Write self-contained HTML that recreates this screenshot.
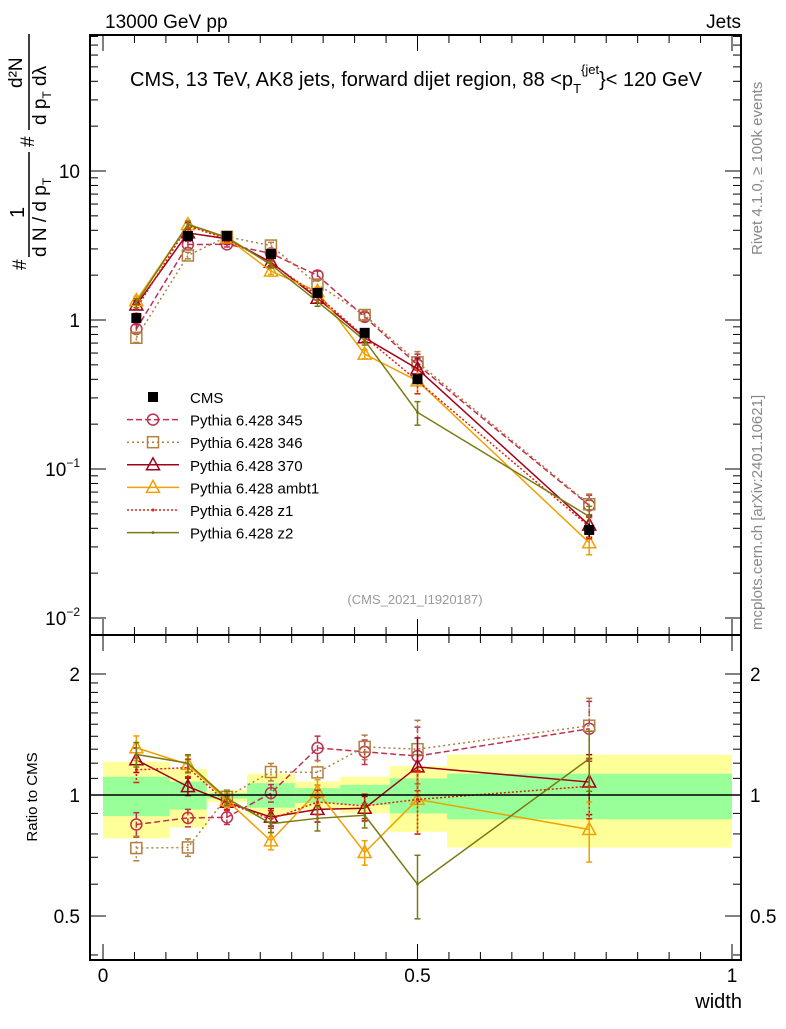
<!DOCTYPE html>
<html><head><meta charset="utf-8"><style>
body{margin:0;background:#fff;}
svg text{font-family:"Liberation Sans",sans-serif;}
</style></head><body>
<svg id="c" width="786" height="1024" xmlns="http://www.w3.org/2000/svg">
<g id="bands"></g>
<g id="marks"></g>
<g id="axes"></g>
<text x="105" y="28" font-size="19">13000 GeV pp</text>
<text x="741" y="28" font-size="19" text-anchor="end">Jets</text>
<text x="416" y="86" font-size="20" text-anchor="middle">CMS, 13 TeV, AK8 jets, forward dijet region, 88 &lt;p<tspan font-size="13" dy="7">T</tspan><tspan font-size="13" dy="-19">{jet</tspan><tspan dy="12">}&lt; 120 GeV</tspan></text>
<text x="415" y="604" font-size="13" fill="#999" text-anchor="middle">(CMS_2021_I1920187)</text>
<text transform="translate(762,255) rotate(-90)" font-size="15" fill="#888">Rivet 4.1.0, ≥ 100k events</text>
<text transform="translate(762,630) rotate(-90)" font-size="15" fill="#888">mcplots.cern.ch [arXiv:2401.10621]</text>
<g transform="translate(46,270) rotate(-90)">
<text x="0" y="-20" font-size="19">#</text>
<text x="52" y="-22" font-size="20">1</text>
<line x1="13" y1="-17" x2="118" y2="-17" stroke="#000" stroke-width="1.5"/>
<text x="13" y="0" font-size="19">d N / d p<tspan font-size="12" dy="5">T</tspan></text>
<text x="123" y="-12" font-size="19">#</text>
<text x="182" y="-24" font-size="19">d²N</text>
<line x1="140" y1="-17" x2="236" y2="-17" stroke="#000" stroke-width="1.5"/>
<text x="145" y="0" font-size="19">d p<tspan font-size="12" dy="5">T</tspan><tspan dy="-5"> dλ</tspan></text>
</g>
<text transform="translate(37,797) rotate(-90)" font-size="15" text-anchor="middle">Ratio to CMS</text>
<text x="742" y="1008" font-size="20" text-anchor="end">width</text>
<g id="legend"></g>
</svg>
<script>
const edges=[0,0.106,0.165,0.229,0.305,0.377,0.456,0.547,1.0];
const xc=[0.053,0.135,0.197,0.267,0.341,0.416,0.50,0.773];
const cms=[1.03,3.66,3.66,2.77,1.52,0.82,0.40,0.039];
const cmsErr=[0.03,0.06,0.05,0.05,0.03,0.03,0.04,0.10];
const band1Up=[1.11,1.08,1.01,1.07,1.04,1.06,1.10,1.13];
const band1Dn=[0.886,0.92,0.98,0.93,0.955,0.945,0.90,0.87];
const band2Up=[1.21,1.16,1.03,1.13,1.08,1.11,1.18,1.26];
const band2Dn=[0.78,0.83,0.96,0.89,0.92,0.90,0.81,0.74];
const v345=[0.87,3.21,3.22,2.80,1.99,1.05,0.50,0.057];
const v346=[0.76,2.71,3.62,3.16,1.73,1.08,0.52,0.058];
const v370=[1.26,3.84,3.51,2.44,1.40,0.76,0.47,0.042];
const vambt1=[1.35,4.36,3.55,2.13,1.55,0.59,0.39,0.032];
const vz1=[1.19,4.28,3.50,2.41,1.46,0.77,0.39,0.041];
const vz2=[1.30,4.39,3.59,2.35,1.33,0.73,0.24,0.048];
const mcErr=[0.07,0.05,0.04,0.05,0.07,0.07,0.18,0.17];
const series=[
 {n:"Pythia 6.428 345",v:v345,c:"#c03050",d:"6,3",m:"circle"},
 {n:"Pythia 6.428 346",v:v346,c:"#b08040",d:"2,3",m:"square"},
 {n:"Pythia 6.428 370",v:v370,c:"#a00018",d:"",m:"tri"},
 {n:"Pythia 6.428 ambt1",v:vambt1,c:"#f0a000",d:"",m:"tri"},
 {n:"Pythia 6.428 z1",v:vz1,c:"#e02010",d:"2,2",m:"dot"},
 {n:"Pythia 6.428 z2",v:vz2,c:"#7a7a10",d:"",m:"dot"}];
const NS="http://www.w3.org/2000/svg";
const L=90,R=741,T=35,M=635,B=960;
const X=v=>103+629*v;
const Y=v=>320-149*Math.log10(v);
const RY=v=>795-402*Math.log10(v);
function mk(p,tag,a){const e=document.createElementNS(NS,tag);for(const k in a)e.setAttribute(k,a[k]);p.appendChild(e);return e;}
const bands=document.getElementById('bands'),marks=document.getElementById('marks'),axes=document.getElementById('axes'),leg=document.getElementById('legend');
for(let i=0;i<8;i++){
 let r=mk(bands,'rect',{x:X(edges[i]),y:RY(band2Up[i]),width:X(edges[i+1])-X(edges[i]),height:RY(band2Dn[i])-RY(band2Up[i]),fill:'#ffff99'});
 
 let g=mk(bands,'rect',{x:X(edges[i]),y:RY(band1Up[i]),width:X(edges[i+1])-X(edges[i]),height:RY(band1Dn[i])-RY(band1Up[i]),fill:'#99ff99'});
 
}
let one=mk(axes,'line',{x1:L,x2:R,y1:RY(1),y2:RY(1),stroke:'#000','stroke-width':1.5});

function marker(p,m,x,y,c){
 if(m=="circle")mk(p,'circle',{cx:x,cy:y,r:5.5,fill:'none',stroke:c,'stroke-width':1.5});
 else if(m=="square")mk(p,'rect',{x:x-5.5,y:y-5.5,width:11,height:11,fill:'none',stroke:c,'stroke-width':1.5});
 else if(m=="tri")mk(p,'polygon',{points:`${x},${y-7} ${x-6.5},${y+5} ${x+6.5},${y+5}`,fill:'none',stroke:c,'stroke-width':1.5});
 else mk(p,'circle',{cx:x,cy:y,r:1.5,fill:c});
}
function drawSeries(vals,yf,s,ratio){
 const g=mk(marks,'g',{});
 
 
 const pts=vals.map((v,i)=>{const val=ratio?v/cms[i]:v;return [X(xc[i]),yf(val),val];});
 mk(g,'polyline',{points:pts.map(p=>p[0]+','+p[1]).join(' '),fill:'none',stroke:s.c,'stroke-width':1.5,'stroke-dasharray':s.d});
 pts.forEach((p,i)=>{const e=mcErr[i];
  mk(g,'line',{x1:p[0],x2:p[0],y1:yf(p[2]*(1+e)),y2:yf(p[2]*(1-e)),stroke:s.c,'stroke-width':1.5,'stroke-dasharray':s.d});
  mk(g,'line',{x1:p[0]-3,x2:p[0]+3,y1:yf(p[2]*(1+e)),y2:yf(p[2]*(1+e)),stroke:s.c,'stroke-width':1.5});
  mk(g,'line',{x1:p[0]-3,x2:p[0]+3,y1:yf(p[2]*(1-e)),y2:yf(p[2]*(1-e)),stroke:s.c,'stroke-width':1.5});
  marker(g,s.m,p[0],p[1],s.c);});
}
series.forEach(s=>{drawSeries(s.v,Y,s,false);drawSeries(s.v,RY,s,true);});
const cg=mk(marks,'g',{});


cms.forEach((v,i)=>{const x=X(xc[i]);
 mk(cg,'line',{x1:x,x2:x,y1:Y(v*(1+cmsErr[i])),y2:Y(v*(1-cmsErr[i])),stroke:'#000','stroke-width':1.5});
 mk(cg,'rect',{x:x-5,y:Y(v)-5,width:10,height:10,fill:'#000'});});
let f1=mk(axes,'rect',{x:L,y:T,width:R-L,height:M-T,fill:'none',stroke:'#000','stroke-width':2});

let f2=mk(axes,'rect',{x:L,y:M,width:R-L,height:B-M,fill:'none',stroke:'#000','stroke-width':2});

for(let d=-2;d<=1;d++)for(let k=1;k<10;k++){const v=k*Math.pow(10,d);const y=Y(v);if(y<T||y>M)continue;const len=k==1?16:8;
 mk(axes,'line',{x1:L,x2:L+len,y1:y,y2:y,stroke:'#000','stroke-width':1});mk(axes,'line',{x1:R-len,x2:R,y1:y,y2:y,stroke:'#000','stroke-width':1});}
[[10,"10"],[1,"1"]].forEach(t=>{let e=mk(axes,'text',{x:80,y:Y(t[0])+7,'font-size':19,'text-anchor':'end'});e.textContent=t[1];});
[[0.1,"−1"],[0.01,"−2"]].forEach(t=>{let e=mk(axes,'text',{x:80,y:Y(t[0])+7,'font-size':19,'text-anchor':'end'});e.innerHTML='10<tspan font-size="12" dy="-9">'+t[1]+'</tspan>';});
[0.5,0.6,0.7,0.8,0.9,1,2].forEach(v=>{const y=RY(v);const len=(v==0.5||v==1||v==2)?16:8;mk(axes,'line',{x1:L,x2:L+len,y1:y,y2:y,stroke:'#000'});mk(axes,'line',{x1:R-len,x2:R,y1:y,y2:y,stroke:'#000'});});
for(let v=1.1;v<2;v+=0.1){const y=RY(v);mk(axes,'line',{x1:L,x2:L+8,y1:y,y2:y,stroke:'#000'});mk(axes,'line',{x1:R-8,x2:R,y1:y,y2:y,stroke:'#000'});}
for(let v=0.3;v<0.5;v+=0.1){const y=RY(v);if(y<B){mk(axes,'line',{x1:L,x2:L+8,y1:y,y2:y,stroke:'#000'});mk(axes,'line',{x1:R-8,x2:R,y1:y,y2:y,stroke:'#000'});}}
[[2,"2"],[1,"1"],[0.5,"0.5"]].forEach(t=>{[[80,'end'],[750,'start']].forEach(s=>{let e=mk(axes,'text',{x:s[0],y:RY(t[0])+7,'font-size':19,'text-anchor':s[1]});e.textContent=t[1];});});
for(let i=0;i<=20;i++){const v=i*0.05;const x=X(v);if(x>R)continue;const len=i%10==0?16:8;
 mk(axes,'line',{x1:x,x2:x,y1:M-len,y2:M,stroke:'#000'});mk(axes,'line',{x1:x,x2:x,y1:T,y2:T+len,stroke:'#000'});
 mk(axes,'line',{x1:x,x2:x,y1:B-len,y2:B,stroke:'#000'});mk(axes,'line',{x1:x,x2:x,y1:M,y2:M+len,stroke:'#000'});}
[[0,"0"],[0.5,"0.5"],[1,"1"]].forEach(t=>{let e=mk(axes,'text',{x:X(t[0]),y:982,'font-size':19,'text-anchor':'middle'});e.textContent=t[1];});
const lx=153,ly0=397,dy=22.6;
let cmsL=mk(leg,'g',{});
mk(cmsL,'rect',{x:lx-5,y:ly0-5,width:10,height:10,fill:'#000'});
let ct=mk(cmsL,'text',{x:190,y:ly0+6,'font-size':15});ct.textContent="CMS";
series.forEach((s,i)=>{const y=ly0+dy*(i+1);const g=mk(leg,'g',{});
 
 mk(g,'line',{x1:lx-26,x2:lx+26,y1:y,y2:y,stroke:s.c,'stroke-width':1.5,'stroke-dasharray':s.d});
 marker(g,s.m,lx,y,s.c);
 let t=mk(g,'text',{x:190,y:y+6,'font-size':15});t.textContent=s.n;});
</script>
</body></html>
